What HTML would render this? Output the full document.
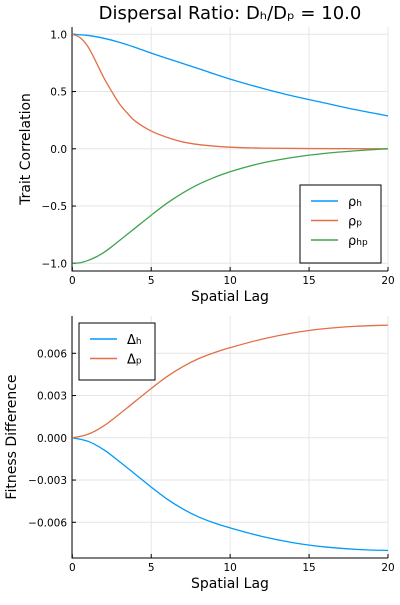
<!DOCTYPE html>
<html><head><meta charset="utf-8"><style>
body{margin:0;background:#fff;font-family:"Liberation Sans",DejaVu Sans,sans-serif}
svg text{font-family:"DejaVu Sans","Liberation Sans",sans-serif;fill:#000}
</style></head><body>
<svg id="c" width="400" height="600"></svg>
<script>
const xTicks=[0,5,10,15,20];
const rhoX=[0,1,2,3,4,5,6,7,8,9,10,12,14,16,18,20];
const rhoH=[1,0.99,0.965,0.93,0.885,0.836,0.79,0.745,0.7,0.653,0.609,0.53,0.46,0.4,0.34,0.288];
const rhoPX=[0,0.5,1,1.5,2,2.5,3,3.5,4,5,6,7,8,9,10,12,15,20];
const rhoP=[1,0.97,0.89,0.76,0.62,0.5,0.39,0.31,0.24,0.155,0.1,0.06,0.037,0.023,0.014,0.006,0.002,0];
const rhoHPX=[0,0.5,1,1.5,2,2.5,3,3.5,4,5,6,7,8,9,10,12,14,16,18,20];
const rhoHP=[-1,-0.995,-0.975,-0.945,-0.905,-0.855,-0.8,-0.745,-0.69,-0.58,-0.475,-0.385,-0.31,-0.25,-0.2,-0.125,-0.075,-0.04,-0.017,0];
const topYTicks=[1,0.5,0,-0.5,-1];
const topYLabels=["1.0","0.5","0.0","−0.5","−1.0"];
const dX=[0,1,2,3,4,5,6,7,8,9,10,12,14,16,18,20];
const dP=[0,0.00025,0.00085,0.0017,0.0026,0.0035,0.00435,0.00505,0.00562,0.00605,0.0064,0.0070,0.00745,0.00775,0.00792,0.0080];
const dH=[0,-0.00025,-0.00085,-0.0017,-0.0026,-0.0035,-0.00435,-0.00505,-0.00562,-0.00605,-0.0064,-0.0070,-0.00745,-0.00775,-0.00792,-0.0080];
const botYTicks=[0.006,0.003,0,-0.003,-0.006];
const botYLabels=["0.006","0.003","0.000","−0.003","−0.006"];
const C=["#009af9","#e26f46","#3ea44e"];
const svg=document.getElementById('c');const NS="http://www.w3.org/2000/svg";
function mk(t,a,p){const e=document.createElementNS(NS,t);for(const k in a)e.setAttribute(k,a[k]);(p||svg).appendChild(e);return e;}
function path(xs,ys,sx,sy){const P=xs.map((x,i)=>[sx(x),sy(ys[i])]);let d="M"+P[0];for(let i=0;i<P.length-1;i++){const p0=P[i-1]||P[i],p1=P[i],p2=P[i+1],p3=P[i+2]||P[i+1];d+=" C"+(p1[0]+(p2[0]-p0[0])/6)+","+(p1[1]+(p2[1]-p0[1])/6)+" "+(p2[0]-(p3[0]-p1[0])/6)+","+(p2[1]-(p3[1]-p1[1])/6)+" "+p2;}return d;}
function panel(o){
 const sx=x=>72.3+(x-0)/20*(388-72.3);
 const sy=v=>o.y0+(v-o.v0)/(o.v1-o.v0)*(o.y1-o.y0);
 const g=mk('g',{});
 xTicks.forEach(t=>{mk('line',{x1:sx(t),x2:sx(t),y1:o.top,y2:o.bot,stroke:'#e6e6e6'},g);
  const tx=mk('text',{x:sx(t),y:o.bot+13,'font-size':10.5,'text-anchor':'middle'},g);tx.textContent=t;});
 o.yt.forEach((t,i)=>{mk('line',{x1:72,x2:388,y1:sy(t),y2:sy(t),stroke:'#e6e6e6'},g);
  const tx=mk('text',{x:67,y:sy(t)+4,'font-size':10.5,'text-anchor':'end'},g);tx.textContent=o.yl[i];});
 mk('path',{d:`M72,${o.top} V${o.bot} H388`,fill:'none',stroke:'#000','stroke-width':1},g);
 xTicks.forEach(t=>mk('line',{x1:sx(t),x2:sx(t),y1:o.bot,y2:o.bot-4,stroke:'#000'},g));
 o.yt.forEach(t=>mk('line',{x1:72,x2:76,y1:sy(t),y2:sy(t),stroke:'#000'},g));
 o.series.forEach(s=>{const p=mk('path',{d:path(s.x,s.y,sx,sy),fill:'none',stroke:s.c,'stroke-width':1.3},g);});
 const xl=mk('text',{x:230,y:o.bot+30,'font-size':14,'text-anchor':'middle'},g);xl.textContent="Spatial Lag";
 const yl=mk('text',{x:0,y:0,'font-size':14,'text-anchor':'middle',transform:`translate(${o.ylx},${(o.top+o.bot)/2}) rotate(-90)`},g);yl.textContent=o.ylab;
 const L=o.leg;const lg=mk('g',{},g);
 mk('rect',{x:L.x,y:L.y,width:L.w,height:L.h,fill:'#fff',stroke:'#000'},lg);
 o.series.forEach((s,i)=>{const yy=L.y+16+i*19.5;mk('line',{x1:L.x+11,x2:L.x+38,y1:yy,y2:yy,stroke:s.c,'stroke-width':1.5},lg);
  const t=mk('text',{x:L.x+48,y:yy+5,'font-size':13},lg);t.innerHTML=s.lab;});
}
panel({name:'top-panel',top:27,bot:271,y0:34.3,y1:263.3,v0:1,v1:-1,yt:topYTicks,yl:topYLabels,ylab:"Trait Correlation",ylx:30,
 leg:{x:300,y:185,w:81,h:78},
 series:[{x:rhoX,y:rhoH,c:C[0],n:'rho-h-line',lab:'ρ<tspan font-size="9">h</tspan>'},{x:rhoPX,y:rhoP,c:C[1],n:'rho-p-line',lab:'ρ<tspan font-size="9">p</tspan>'},{x:rhoHPX,y:rhoHP,c:C[2],n:'rho-hp-line',lab:'ρ<tspan font-size="9">hp</tspan>'}]});
panel({name:'bottom-panel',top:316,bot:558,y0:353.3,y1:522.3,v0:0.006,v1:-0.006,yt:botYTicks,yl:botYLabels,ylab:"Fitness Difference",ylx:16,
 leg:{x:79,y:323,w:76,h:57},
 series:[{x:dX,y:dH,c:C[0],n:'delta-h-line',lab:'Δ<tspan font-size="9">h</tspan>'},{x:dX,y:dP,c:C[1],n:'delta-p-line',lab:'Δ<tspan font-size="9">p</tspan>'}]});
const ti=mk('text',{x:230,y:19,'font-size':18,'text-anchor':'middle'});ti.textContent="Dispersal Ratio: Dₕ/Dₚ = 10.0";


</script>
</body></html>
